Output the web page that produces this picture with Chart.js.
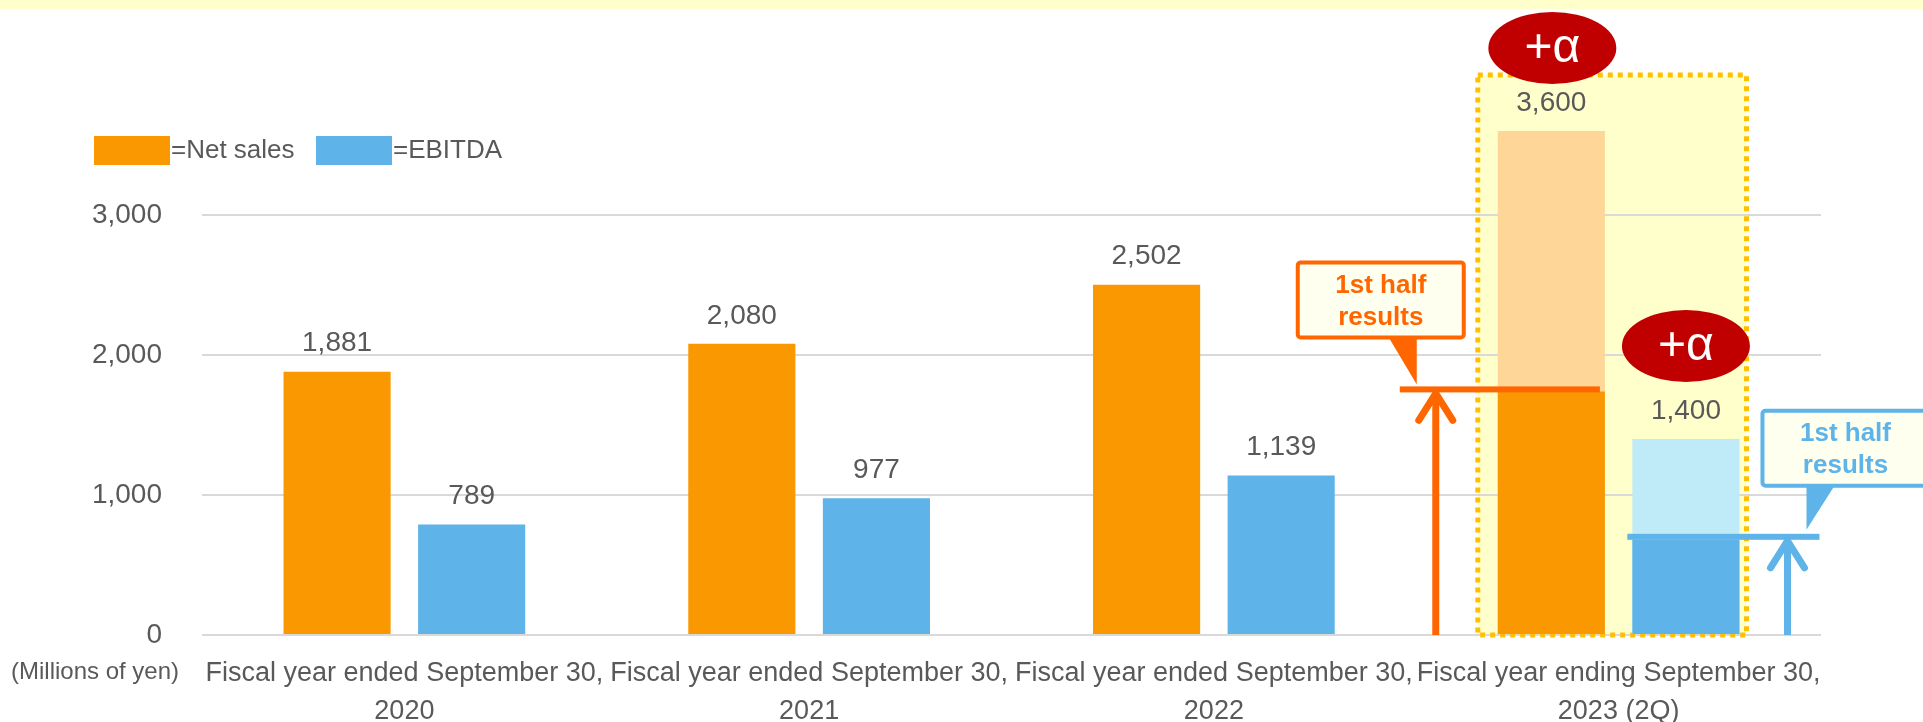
<!DOCTYPE html>
<html>
<head>
<meta charset="utf-8">
<title>Net sales / EBITDA</title>
<script src="https://cdn.jsdelivr.net/npm/chart.js@4.4.0/dist/chart.umd.min.js"></script>
<style>
  html, body { margin: 0; padding: 0; background: #fff; }
  #wrap { width: 1923px; height: 722px; }
</style>
</head>
<body>
<div id="wrap"><canvas id="salesChart" width="1923" height="722"></canvas></div>
<script>
// 売上高・EBITDA（百万円）
const categories = [
  ["Fiscal year ended September 30,", "2020"],
  ["Fiscal year ended September 30,", "2021"],
  ["Fiscal year ended September 30,", "2022"],
  ["Fiscal year ending September 30,", "2023 (2Q)"]
];
const netSales = [1881, 2080, 2502, 1740];      // 2023 は上期実績
const ebitda = [789, 977, 1139, 680];
const netSalesPlan = [null, null, null, 3600];  // 通期予想
const ebitdaPlan = [null, null, null, 1400];
const yTicks = [0, 1000, 2000, 3000];
const halfIdx = 3;        // 上期実績の列
const highlightTop = 4000;

const ORANGE = "#F99800";
const BLUE = "#5EB3E8";
const ORANGE_LIGHT = "#FDD698";
const BLUE_LIGHT = "#BFEBF8";
const TEXT = "#595959";
const FONT = "'Liberation Sans', Arial, sans-serif";

Chart.defaults.font.family = FONT;
Chart.defaults.color = TEXT;

const fmt = v => v.toLocaleString("en-US");

function barAt(chart, ds, i) {
  const el = chart.getDatasetMeta(ds).data[i];
  return { x: el.x, y: el.y, l: el.x - el.width / 2, r: el.x + el.width / 2 };
}

function upArrow(ctx, color, x, y0, y1) {
  ctx.strokeStyle = color;
  ctx.lineWidth = 7;
  ctx.lineCap = "butt";
  ctx.beginPath();
  ctx.moveTo(x, y0);
  ctx.lineTo(x, y1 + 3);
  ctx.stroke();
  ctx.lineCap = "round";
  ctx.lineJoin = "round";
  ctx.beginPath();
  ctx.moveTo(x - 17, y1 + 31);
  ctx.lineTo(x, y1 + 4);
  ctx.lineTo(x + 17, y1 + 31);
  ctx.stroke();
}

function callout(ctx, color, bx, by, pts) {
  const w = 166, h = 75;
  ctx.fillStyle = "#FFFFF0";
  ctx.strokeStyle = color;
  ctx.lineWidth = 4;
  ctx.beginPath();
  ctx.roundRect(bx, by, w, h, 3);
  ctx.fill();
  ctx.stroke();
  ctx.fillStyle = color;
  ctx.beginPath();
  ctx.moveTo(pts[0][0], pts[0][1]);
  ctx.lineTo(pts[1][0], pts[1][1]);
  ctx.lineTo(pts[2][0], pts[2][1]);
  ctx.closePath();
  ctx.fill();
  ctx.font = "bold 26px " + FONT;
  ctx.textAlign = "center";
  ctx.textBaseline = "middle";
  ctx.fillText("1st half", bx + w / 2, by + 23);
  ctx.fillText("results", bx + w / 2, by + 55);
}

function alpha(ctx, x, y) {
  ctx.fillStyle = "#C00000";
  ctx.beginPath();
  ctx.ellipse(x, y, 64, 36, 0, 0, Math.PI * 2);
  ctx.fill();
  ctx.fillStyle = "#fff";
  ctx.font = "48px " + FONT;
  ctx.textAlign = "center";
  ctx.textBaseline = "middle";
  ctx.fillText("+α", x, y + 1);
}

const decor = {
  id: "decor",
  beforeDraw(chart) {
    const { ctx } = chart;
    const y = chart.scales.y;
    const o = barAt(chart, 0, halfIdx), b = barAt(chart, 1, halfIdx);
    const top = y.getPixelForValue(highlightTop), bottom = y.getPixelForValue(0);
    ctx.save();
    ctx.fillStyle = "#FFFFCC";
    ctx.fillRect(0, 0, chart.width, 9);
    ctx.fillRect(o.l - 20, top, (b.r + 7) - (o.l - 20), bottom - top);
    ctx.restore();
  },
  beforeDatasetsDraw(chart) {
    const { ctx } = chart;
    const y = chart.scales.y;
    const o = barAt(chart, 0, halfIdx), b = barAt(chart, 1, halfIdx);
    const top = y.getPixelForValue(highlightTop), bottom = y.getPixelForValue(0);
    ctx.save();
    ctx.strokeStyle = "#FFC000";
    ctx.lineWidth = 5;
    ctx.setLineDash([5, 5]);
    ctx.strokeRect(o.l - 20, top, (b.r + 7) - (o.l - 20), bottom - top);
    ctx.restore();
  },
  afterDatasetsDraw(chart) {
    const { ctx } = chart;
    const y = chart.scales.y;
    const zero = y.getPixelForValue(0);
    ctx.save();

    // 数値ラベル
    ctx.font = "28px " + FONT;
    ctx.fillStyle = TEXT;
    ctx.textAlign = "center";
    ctx.textBaseline = "middle";
    chart.data.datasets.forEach((ds, di) => {
      chart.getDatasetMeta(di).data.forEach((el, i) => {
        const v = ds.data[i];
        if (v == null || (ds.skipLabel || []).includes(i)) return;
        ctx.fillText(fmt(v), el.x, el.y - 28);
      });
    });

    // 上期実績の線・矢印・吹き出し
    const o = barAt(chart, 0, halfIdx), b = barAt(chart, 1, halfIdx);
    const oy = o.y - 2, by = b.y - 3;
    ctx.fillStyle = "#FF6600";
    ctx.fillRect(o.l - 98, oy - 3, (o.r - 5) - (o.l - 98), 6);
    upArrow(ctx, "#FF6600", o.l - 62, zero, oy);
    callout(ctx, "#FF6600", o.l - 200, oy - 127,
      [[o.l - 109, oy - 52], [o.l - 81, oy - 52], [o.l - 81, oy - 5]]);

    ctx.fillStyle = BLUE;
    ctx.fillRect(b.l - 5, by - 3, (b.r + 80) - (b.l - 5), 6);
    upArrow(ctx, BLUE, b.r + 48, zero, by);
    callout(ctx, BLUE, b.r + 23, by - 126,
      [[b.r + 67, by - 51], [b.r + 95, by - 51], [b.r + 67, by - 7]]);

    // +α
    const po = barAt(chart, 2, halfIdx), pb = barAt(chart, 3, halfIdx);
    alpha(ctx, po.x + 1, po.y - 83);
    alpha(ctx, b.x, pb.y - 93);

    // 凡例
    ctx.font = "26px " + FONT;
    ctx.textAlign = "left";
    ctx.textBaseline = "middle";
    [[0, 94], [1, 316]].forEach(([di, lx]) => {
      const ds = chart.data.datasets[di];
      ctx.fillStyle = ds.backgroundColor;
      ctx.fillRect(lx, 136, 76, 29);
      ctx.fillStyle = TEXT;
      ctx.fillText("=" + ds.label, lx + 77, 151);
    });

    ctx.font = "24px " + FONT;
    ctx.textAlign = "center";
    ctx.fillText("(Millions of yen)", 95, 672);
    ctx.restore();
  }
};

new Chart(document.getElementById("salesChart"), {
  type: "bar",
  data: {
    labels: categories,
    datasets: [
      { label: "Net sales", data: netSales, backgroundColor: ORANGE, stack: "s", skipLabel: [halfIdx] },
      { label: "EBITDA", data: ebitda, backgroundColor: BLUE, stack: "e", skipLabel: [halfIdx] },
      { label: "Net sales forecast", data: netSalesPlan, backgroundColor: ORANGE_LIGHT, stack: "s" },
      { label: "EBITDA forecast", data: ebitdaPlan, backgroundColor: BLUE_LIGHT, stack: "e" }
    ]
  },
  options: {
    responsive: false,
    animation: false,
    devicePixelRatio: 1,
    categoryPercentage: 0.665,
    barPercentage: 0.796,
    layout: { padding: { top: 75, right: 102, left: 0, bottom: 0 } },
    plugins: { legend: { display: false }, tooltip: { enabled: false } },
    scales: {
      x: {
        stacked: true,
        grid: { display: false },
        border: { display: false },
        ticks: {
          autoSkip: false,
          maxRotation: 0,
          padding: 12,
          color: TEXT,
          font: { size: 27, lineHeight: 1.4 }
        },
        afterFit(s) { s.height = 87; }
      },
      y: {
        stacked: false,
        min: 0,
        max: highlightTop,
        afterBuildTicks(s) { s.ticks = yTicks.map(v => ({ value: v })); },
        afterFit(s) { s.width = 202; },
        grid: { color: "#D9D9D9", lineWidth: 2, drawTicks: false },
        border: { display: false },
        ticks: {
          padding: 40,
          color: TEXT,
          font: { size: 28 },
          callback: v => fmt(v)
        }
      }
    }
  },
  plugins: [decor]
});
</script>
</body>
</html>
